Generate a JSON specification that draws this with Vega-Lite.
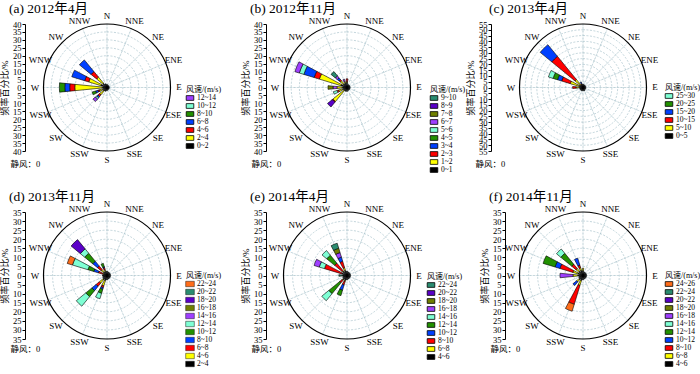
{
"$schema": "https://vega.github.io/schema/vega-lite/v6.json",
"padding": {"left": 0, "top": 2, "right": 0, "bottom": 0},
"background": "white",
"datasets": {
"dirs": [{"dir":"N","deg":0},{"dir":"NNE","deg":22.5},{"dir":"NE","deg":45},{"dir":"ENE","deg":67.5},{"dir":"E","deg":90},{"dir":"ESE","deg":112.5},{"dir":"SE","deg":135},{"dir":"SSE","deg":157.5},{"dir":"S","deg":180},{"dir":"SSW","deg":202.5},{"dir":"SW","deg":225},{"dir":"WSW","deg":247.5},{"dir":"W","deg":270},{"dir":"WNW","deg":292.5},{"dir":"NW","deg":315},{"dir":"NNW","deg":337.5}],
"rings": [{"r":5},{"r":10},{"r":15},{"r":20},{"r":25},{"r":30},{"r":35},{"r":40},{"r":45},{"r":50}],
"pa": [
{"dir":"W","bin":"0~2","k":0,"v":3},{"dir":"W","bin":"2~4","k":1,"v":17.3},{"dir":"W","bin":"4~6","k":2,"v":3.2},{"dir":"W","bin":"6~8","k":3,"v":3.1},{"dir":"W","bin":"8~10","k":4,"v":3.4},
{"dir":"WNW","bin":"0~2","k":0,"v":4},{"dir":"WNW","bin":"2~4","k":1,"v":8},{"dir":"WNW","bin":"4~6","k":2,"v":2.7},{"dir":"WNW","bin":"6~8","k":3,"v":8.5},
{"dir":"NW","bin":"0~2","k":0,"v":3.5},{"dir":"NW","bin":"2~4","k":1,"v":5},{"dir":"NW","bin":"4~6","k":2,"v":4.5},{"dir":"NW","bin":"6~8","k":3,"v":9.5},
{"dir":"WSW","bin":"0~2","k":0,"v":3},{"dir":"WSW","bin":"2~4","k":1,"v":2},{"dir":"WSW","bin":"4~6","k":2,"v":1},{"dir":"WSW","bin":"6~8","k":3,"v":1.5},{"dir":"WSW","bin":"8~10","k":4,"v":2.3},
{"dir":"SW","bin":"0~2","k":0,"v":3},{"dir":"SW","bin":"2~4","k":1,"v":3},{"dir":"SW","bin":"4~6","k":2,"v":1.5},{"dir":"SW","bin":"6~8","k":3,"v":1},{"dir":"SW","bin":"10~12","k":5,"v":1},{"dir":"SW","bin":"12~14","k":6,"v":2},
{"dir":"N","bin":"0~2","k":0,"v":2},{"dir":"NNE","bin":"0~2","k":0,"v":1.5},{"dir":"NE","bin":"0~2","k":0,"v":1.5},{"dir":"ENE","bin":"0~2","k":0,"v":1.5},{"dir":"E","bin":"0~2","k":0,"v":1.5},{"dir":"ESE","bin":"0~2","k":0,"v":1.5},{"dir":"SE","bin":"0~2","k":0,"v":1.5},{"dir":"SSE","bin":"0~2","k":0,"v":1.5},{"dir":"S","bin":"0~2","k":0,"v":2},{"dir":"SSW","bin":"0~2","k":0,"v":2.5},{"dir":"NNW","bin":"0~2","k":0,"v":2.5}
],
"pb": [
{"dir":"WNW","bin":"0~1","k":0,"v":4},{"dir":"WNW","bin":"1~2","k":1,"v":14.2},{"dir":"WNW","bin":"2~3","k":2,"v":3.4},{"dir":"WNW","bin":"3~4","k":3,"v":6.8},{"dir":"WNW","bin":"5~6","k":5,"v":3},{"dir":"WNW","bin":"6~7","k":6,"v":2.9},
{"dir":"NW","bin":"0~1","k":0,"v":3},{"dir":"NW","bin":"1~2","k":1,"v":2.5},{"dir":"NW","bin":"2~3","k":2,"v":1},{"dir":"NW","bin":"3~4","k":3,"v":1.5},{"dir":"NW","bin":"6~7","k":6,"v":1.5},{"dir":"NW","bin":"9~10","k":9,"v":3.5},
{"dir":"W","bin":"0~1","k":0,"v":3},{"dir":"W","bin":"1~2","k":1,"v":3.3},{"dir":"W","bin":"6~7","k":6,"v":2.5},{"dir":"W","bin":"7~8","k":7,"v":3.2},
{"dir":"WSW","bin":"0~1","k":0,"v":3},{"dir":"WSW","bin":"1~2","k":1,"v":2.5},{"dir":"WSW","bin":"2~3","k":2,"v":1},{"dir":"WSW","bin":"5~6","k":5,"v":2.5},
{"dir":"SW","bin":"0~1","k":0,"v":2.5},{"dir":"SW","bin":"1~2","k":1,"v":9},{"dir":"SW","bin":"2~3","k":2,"v":0.5},{"dir":"SW","bin":"8~9","k":8,"v":3.9},
{"dir":"N","bin":"0~1","k":0,"v":3},{"dir":"N","bin":"1~2","k":1,"v":0.5},{"dir":"N","bin":"2~3","k":2,"v":2},
{"dir":"NNW","bin":"0~1","k":0,"v":3},{"dir":"NNW","bin":"1~2","k":1,"v":1},{"dir":"NNW","bin":"6~7","k":6,"v":1.5},
{"dir":"NNE","bin":"0~1","k":0,"v":2},{"dir":"NE","bin":"0~1","k":0,"v":2},{"dir":"ENE","bin":"0~1","k":0,"v":2},{"dir":"E","bin":"0~1","k":0,"v":2},{"dir":"ESE","bin":"0~1","k":0,"v":2},{"dir":"SE","bin":"0~1","k":0,"v":2},{"dir":"SSE","bin":"0~1","k":0,"v":2},{"dir":"S","bin":"0~1","k":0,"v":2.5},{"dir":"SSW","bin":"0~1","k":0,"v":2.5}
],
"pc": [
{"dir":"NW","bin":"0~5","k":0,"v":3},{"dir":"NW","bin":"5~10","k":1,"v":6},{"dir":"NW","bin":"10~15","k":2,"v":26},{"dir":"NW","bin":"15~20","k":3,"v":13},
{"dir":"WNW","bin":"0~5","k":0,"v":3.5},{"dir":"WNW","bin":"5~10","k":1,"v":8},{"dir":"WNW","bin":"10~15","k":2,"v":7.8},{"dir":"WNW","bin":"15~20","k":3,"v":3.8},{"dir":"WNW","bin":"20~25","k":4,"v":4},{"dir":"WNW","bin":"25~30","k":5,"v":4.2},
{"dir":"NNW","bin":"0~5","k":0,"v":2.5},{"dir":"NNW","bin":"5~10","k":1,"v":0.5},{"dir":"NNW","bin":"10~15","k":2,"v":0.5},{"dir":"NNW","bin":"15~20","k":3,"v":1.5},
{"dir":"W","bin":"0~5","k":0,"v":3},{"dir":"W","bin":"5~10","k":1,"v":3},{"dir":"W","bin":"10~15","k":2,"v":3},
{"dir":"N","bin":"0~5","k":0,"v":3},{"dir":"NNE","bin":"0~5","k":0,"v":2.5},{"dir":"NE","bin":"0~5","k":0,"v":2.5},{"dir":"ENE","bin":"0~5","k":0,"v":2.5},{"dir":"E","bin":"0~5","k":0,"v":2.5},{"dir":"ESE","bin":"0~5","k":0,"v":2.5},{"dir":"SE","bin":"0~5","k":0,"v":2.5},{"dir":"SSE","bin":"0~5","k":0,"v":3},{"dir":"S","bin":"0~5","k":0,"v":3},{"dir":"SSW","bin":"0~5","k":0,"v":3},{"dir":"SW","bin":"0~5","k":0,"v":3},{"dir":"WSW","bin":"0~5","k":0,"v":3}
],
"pd": [
{"dir":"NW","bin":"2~4","k":0,"v":2.5},{"dir":"NW","bin":"4~6","k":1,"v":1.7},{"dir":"NW","bin":"6~8","k":2,"v":2.6},{"dir":"NW","bin":"8~10","k":3,"v":3.4},{"dir":"NW","bin":"10~12","k":4,"v":5.7},{"dir":"NW","bin":"12~14","k":5,"v":3.1},{"dir":"NW","bin":"18~20","k":8,"v":6.6},
{"dir":"WNW","bin":"2~4","k":0,"v":2},{"dir":"WNW","bin":"4~6","k":1,"v":0.4},{"dir":"WNW","bin":"6~8","k":2,"v":2.6},{"dir":"WNW","bin":"8~10","k":3,"v":2.6},{"dir":"WNW","bin":"10~12","k":4,"v":3.4},{"dir":"WNW","bin":"12~14","k":5,"v":8.9},{"dir":"WNW","bin":"22~24","k":10,"v":3},
{"dir":"SW","bin":"2~4","k":0,"v":3},{"dir":"SW","bin":"4~6","k":1,"v":2.5},{"dir":"SW","bin":"6~8","k":2,"v":2.3},{"dir":"SW","bin":"8~10","k":3,"v":3},{"dir":"SW","bin":"10~12","k":4,"v":4.3},{"dir":"SW","bin":"12~14","k":5,"v":6.8},
{"dir":"SSW","bin":"2~4","k":0,"v":3},{"dir":"SSW","bin":"4~6","k":1,"v":3},{"dir":"SSW","bin":"6~8","k":2,"v":1},{"dir":"SSW","bin":"8~10","k":3,"v":1},{"dir":"SSW","bin":"10~12","k":4,"v":2.3},{"dir":"SSW","bin":"12~14","k":5,"v":3.1},
{"dir":"NNW","bin":"2~4","k":0,"v":2.5},{"dir":"NNW","bin":"4~6","k":1,"v":1},{"dir":"NNW","bin":"6~8","k":2,"v":1},{"dir":"NNW","bin":"8~10","k":3,"v":0.5},{"dir":"NNW","bin":"10~12","k":4,"v":2},
{"dir":"N","bin":"2~4","k":0,"v":2.5},{"dir":"NNE","bin":"2~4","k":0,"v":2},{"dir":"NE","bin":"2~4","k":0,"v":2},{"dir":"ENE","bin":"2~4","k":0,"v":2},{"dir":"E","bin":"2~4","k":0,"v":2},{"dir":"ESE","bin":"2~4","k":0,"v":2},{"dir":"SE","bin":"2~4","k":0,"v":2},{"dir":"SSE","bin":"2~4","k":0,"v":2},{"dir":"S","bin":"2~4","k":0,"v":2.5},{"dir":"WSW","bin":"2~4","k":0,"v":2.5},{"dir":"W","bin":"2~4","k":0,"v":2.5}
],
"pe": [
{"dir":"NNW","bin":"4~6","k":0,"v":3},{"dir":"NNW","bin":"6~8","k":1,"v":1.5},{"dir":"NNW","bin":"8~10","k":2,"v":3.7},{"dir":"NNW","bin":"10~12","k":3,"v":2.4},{"dir":"NNW","bin":"16~18","k":6,"v":2.6},{"dir":"NNW","bin":"18~20","k":7,"v":2.5},{"dir":"NNW","bin":"22~24","k":9,"v":2.9},
{"dir":"NW","bin":"4~6","k":0,"v":3},{"dir":"NW","bin":"6~8","k":1,"v":0.5},{"dir":"NW","bin":"8~10","k":2,"v":5.3},{"dir":"NW","bin":"12~14","k":4,"v":5.7},{"dir":"NW","bin":"14~16","k":5,"v":3.3},
{"dir":"WNW","bin":"4~6","k":0,"v":3},{"dir":"WNW","bin":"8~10","k":2,"v":10},{"dir":"WNW","bin":"14~16","k":5,"v":3},{"dir":"WNW","bin":"16~18","k":6,"v":3},
{"dir":"W","bin":"4~6","k":0,"v":2.5},{"dir":"W","bin":"22~24","k":9,"v":2},
{"dir":"SW","bin":"4~6","k":0,"v":3},{"dir":"SW","bin":"6~8","k":1,"v":0.5},{"dir":"SW","bin":"8~10","k":2,"v":1.7},{"dir":"SW","bin":"12~14","k":4,"v":7.8},{"dir":"SW","bin":"14~16","k":5,"v":5},
{"dir":"SSW","bin":"4~6","k":0,"v":3},{"dir":"SSW","bin":"6~8","k":1,"v":0.5},{"dir":"SSW","bin":"8~10","k":2,"v":2},{"dir":"SSW","bin":"10~12","k":3,"v":3},{"dir":"SSW","bin":"12~14","k":4,"v":3.1},
{"dir":"N","bin":"4~6","k":0,"v":2.5},{"dir":"NNE","bin":"4~6","k":0,"v":2},{"dir":"NE","bin":"4~6","k":0,"v":2},{"dir":"ENE","bin":"4~6","k":0,"v":2},{"dir":"E","bin":"4~6","k":0,"v":2},{"dir":"ESE","bin":"4~6","k":0,"v":2},{"dir":"SE","bin":"4~6","k":0,"v":2},{"dir":"SSE","bin":"4~6","k":0,"v":2},{"dir":"S","bin":"4~6","k":0,"v":2.5},{"dir":"WSW","bin":"4~6","k":0,"v":2.5}
],
"pf": [
{"dir":"NW","bin":"4~6","k":0,"v":3},{"dir":"NW","bin":"6~8","k":1,"v":2},{"dir":"NW","bin":"8~10","k":2,"v":3},{"dir":"NW","bin":"12~14","k":4,"v":7.8},{"dir":"NW","bin":"14~16","k":5,"v":3.1},
{"dir":"WNW","bin":"4~6","k":0,"v":3},{"dir":"WNW","bin":"6~8","k":1,"v":2.8},{"dir":"WNW","bin":"8~10","k":2,"v":7.5},{"dir":"WNW","bin":"10~12","k":3,"v":2.8},{"dir":"WNW","bin":"12~14","k":4,"v":6.9},
{"dir":"NNW","bin":"4~6","k":0,"v":3},{"dir":"NNW","bin":"6~8","k":1,"v":1.5},{"dir":"NNW","bin":"8~10","k":2,"v":1.5},{"dir":"NNW","bin":"10~12","k":3,"v":4},
{"dir":"W","bin":"4~6","k":0,"v":3},{"dir":"W","bin":"6~8","k":1,"v":2.5},{"dir":"W","bin":"16~18","k":6,"v":7.2},
{"dir":"SW","bin":"4~6","k":0,"v":3},{"dir":"SW","bin":"6~8","k":1,"v":1.5},{"dir":"SW","bin":"10~12","k":3,"v":2.7},
{"dir":"SSW","bin":"4~6","k":0,"v":3},{"dir":"SSW","bin":"6~8","k":1,"v":2.7},{"dir":"SSW","bin":"8~10","k":2,"v":10.9},{"dir":"SSW","bin":"24~26","k":10,"v":4},
{"dir":"N","bin":"4~6","k":0,"v":2.5},{"dir":"N","bin":"6~8","k":1,"v":1.5},{"dir":"NNE","bin":"4~6","k":0,"v":2},{"dir":"NE","bin":"4~6","k":0,"v":2},{"dir":"ENE","bin":"4~6","k":0,"v":2},{"dir":"E","bin":"4~6","k":0,"v":2},{"dir":"ESE","bin":"4~6","k":0,"v":2},{"dir":"SE","bin":"4~6","k":0,"v":2},{"dir":"SSE","bin":"4~6","k":0,"v":2},{"dir":"S","bin":"4~6","k":0,"v":2.5},{"dir":"WSW","bin":"4~6","k":0,"v":2.5}
]
},
"columns": 3,
"spacing": {"row": 61, "column": 77},
"bounds": "flush",
"concat": [
{
"width": 164, "height": 127, "title": "(a) 2012年4月",
"layer": [
{"data": {"values": [{}]}, "mark": {"type": "point", "opacity": 0}, "encoding": {
 "y": {"datum": 0, "type": "quantitative", "scale": {"domain": [-40, 40], "nice": false, "zero": false}, "axis": {"values": [-40,-35,-30,-25,-20,-15,-10,-5,0,5,10,15,20,25,30,35,40], "labelExpr": "abs(datum.value)", "title": "频率百分比/%"}},
 "x": {"datum": 0, "type": "quantitative", "scale": {"domain": [-1, 1]}, "axis": {"title": "静风：0", "labels": false, "ticks": false, "domain": false, "grid": false, "titleAnchor": "start", "titleAlign": "left", "titleX": -15, "titleY": 12, "titleBaseline": "middle", "titleFontSize": 8.5}}}},
{"data": {"name": "rings"}, "transform": [{"filter": "datum.r < 40"}], "mark": {"type": "arc", "theta": 0, "theta2": 6.2832, "filled": false, "stroke": "#a9c3cb", "strokeWidth": 0.7, "strokeDash": [2, 1.5]}, "encoding": {"radius": {"field": "r", "type": "quantitative", "stack": null, "scale": {"type": "linear", "domain": [0, 40], "range": [0, 63.5], "zero": true, "nice": false}}}},
{"data": {"name": "dirs"}, "mark": {"type": "arc", "radius": 63.5, "filled": false, "stroke": "#a9c3cb", "strokeWidth": 0.5, "strokeDash": [2, 1.5]}, "encoding": {"theta": {"field": "deg", "type": "quantitative", "stack": null, "scale": {"domain": [0, 360], "range": [0, 6.283185]}}, "theta2": {"field": "deg"}}},
{"data": {"name": "pa"}, "mark": {"type": "arc", "stroke": "black", "strokeWidth": 0.6}, "encoding": {
 "theta": {"field": "dir", "type": "nominal", "scale": {"type": "band", "domain": ["N","NNE","NE","ENE","E","ESE","SE","SSE","S","SSW","SW","WSW","W","WNW","NW","NNW"], "range": [-0.19635, 6.08684], "paddingInner": 0.5, "paddingOuter": 0.25}},
 "radius": {"field": "v", "type": "quantitative", "stack": "zero", "scale": {"type": "linear", "domain": [0, 40], "range": [0, 63.5], "zero": true, "nice": false}},
 "color": {"field": "bin", "type": "nominal", "title": "风速/(m/s)", "scale": {"domain": ["12~14","10~12","8~10","6~8","4~6","2~4","0~2"], "range": ["#9f3fff","#7fffd4","#229100","#0040ff","#ff0000","#ffff00","#000000"]}, "legend": {"legendX": 161, "legendY": 62, "symbolSize": 40, "symbolStrokeWidth": 0.8}},
 "order": {"field": "k", "type": "quantitative"}}},
{"data": {"values": [{}]}, "mark": {"type": "arc", "radius": 63.5, "theta": 0, "theta2": 6.2832, "filled": false, "stroke": "black", "strokeWidth": 1.2}, "encoding": {}},
{"data": {"name": "dirs"}, "mark": {"type": "text", "radius": 72, "fontSize": 9, "color": "black"}, "encoding": {"theta": {"field": "deg", "type": "quantitative", "stack": null, "scale": {"domain": [0, 360], "range": [0, 6.283185]}}, "text": {"field": "dir"}}}
],
"resolve": {"scale": {"theta": "independent"}}
},
{
"width": 162, "height": 127, "title": "(b) 2012年11月",
"layer": [
{"data": {"values": [{}]}, "mark": {"type": "point", "opacity": 0}, "encoding": {
 "y": {"datum": 0, "type": "quantitative", "scale": {"domain": [-40, 40], "nice": false, "zero": false}, "axis": {"values": [-40,-35,-30,-25,-20,-15,-10,-5,0,5,10,15,20,25,30,35,40], "labelExpr": "abs(datum.value)", "title": "频率百分比/%"}},
 "x": {"datum": 0, "type": "quantitative", "scale": {"domain": [-1, 1]}, "axis": {"title": "静风：0", "labels": false, "ticks": false, "domain": false, "grid": false, "titleAnchor": "start", "titleAlign": "left", "titleX": -15, "titleY": 12, "titleBaseline": "middle", "titleFontSize": 8.5}}}},
{"data": {"name": "rings"}, "transform": [{"filter": "datum.r < 40"}], "mark": {"type": "arc", "theta": 0, "theta2": 6.2832, "filled": false, "stroke": "#a9c3cb", "strokeWidth": 0.7, "strokeDash": [2, 1.5]}, "encoding": {"radius": {"field": "r", "type": "quantitative", "stack": null, "scale": {"type": "linear", "domain": [0, 40], "range": [0, 63.5], "zero": true, "nice": false}}}},
{"data": {"name": "dirs"}, "mark": {"type": "arc", "radius": 63.5, "filled": false, "stroke": "#a9c3cb", "strokeWidth": 0.5, "strokeDash": [2, 1.5]}, "encoding": {"theta": {"field": "deg", "type": "quantitative", "stack": null, "scale": {"domain": [0, 360], "range": [0, 6.283185]}}, "theta2": {"field": "deg"}}},
{"data": {"name": "pb"}, "mark": {"type": "arc", "stroke": "black", "strokeWidth": 0.6}, "encoding": {
 "theta": {"field": "dir", "type": "nominal", "scale": {"type": "band", "domain": ["N","NNE","NE","ENE","E","ESE","SE","SSE","S","SSW","SW","WSW","W","WNW","NW","NNW"], "range": [-0.19635, 6.08684], "paddingInner": 0.5, "paddingOuter": 0.25}},
 "radius": {"field": "v", "type": "quantitative", "stack": "zero", "scale": {"type": "linear", "domain": [0, 40], "range": [0, 63.5], "zero": true, "nice": false}},
 "color": {"field": "bin", "type": "nominal", "title": "风速/(m/s)", "scale": {"domain": ["9~10","8~9","7~8","6~7","5~6","4~5","3~4","2~3","1~2","0~1"], "range": ["#2a8c70","#5a00c8","#6f7f00","#9f3fff","#7fffd4","#229100","#0040ff","#ff0000","#ffff00","#000000"]}, "legend": {"legendX": 164, "legendY": 62, "symbolSize": 40, "symbolStrokeWidth": 0.8}},
 "order": {"field": "k", "type": "quantitative"}}},
{"data": {"values": [{}]}, "mark": {"type": "arc", "radius": 63.5, "theta": 0, "theta2": 6.2832, "filled": false, "stroke": "black", "strokeWidth": 1.2}, "encoding": {}},
{"data": {"name": "dirs"}, "mark": {"type": "text", "radius": 72, "fontSize": 9, "color": "black"}, "encoding": {"theta": {"field": "deg", "type": "quantitative", "stack": null, "scale": {"domain": [0, 360], "range": [0, 6.283185]}}, "text": {"field": "dir"}}}
],
"resolve": {"scale": {"theta": "independent"}}
},
{
"width": 156, "height": 127, "title": "(c) 2013年4月",
"layer": [
{"data": {"values": [{}]}, "mark": {"type": "point", "opacity": 0}, "encoding": {
 "y": {"datum": 0, "type": "quantitative", "scale": {"domain": [-55, 55], "nice": false, "zero": false}, "axis": {"values": [-55,-50,-45,-40,-35,-30,-25,-20,-15,-10,-5,0,5,10,15,20,25,30,35,40,45,50,55], "labelExpr": "abs(datum.value)", "title": "频率百分比/%", "offset": 14}},
 "x": {"datum": 0, "type": "quantitative", "scale": {"domain": [-1, 1]}, "axis": {"title": "静风：0", "labels": false, "ticks": false, "domain": false, "grid": false, "titleAnchor": "start", "titleAlign": "left", "titleX": -30, "titleY": 12, "titleBaseline": "middle", "titleFontSize": 8.5}}}},
{"data": {"name": "rings"}, "transform": [{"filter": "datum.r < 55"}], "mark": {"type": "arc", "theta": 0, "theta2": 6.2832, "filled": false, "stroke": "#a9c3cb", "strokeWidth": 0.7, "strokeDash": [2, 1.5]}, "encoding": {"radius": {"field": "r", "type": "quantitative", "stack": null, "scale": {"type": "linear", "domain": [0, 55], "range": [0, 63.5], "zero": true, "nice": false}}}},
{"data": {"name": "dirs"}, "mark": {"type": "arc", "radius": 63.5, "filled": false, "stroke": "#a9c3cb", "strokeWidth": 0.5, "strokeDash": [2, 1.5]}, "encoding": {"theta": {"field": "deg", "type": "quantitative", "stack": null, "scale": {"domain": [0, 360], "range": [0, 6.283185]}}, "theta2": {"field": "deg"}}},
{"data": {"name": "pc"}, "mark": {"type": "arc", "stroke": "black", "strokeWidth": 0.6}, "encoding": {
 "theta": {"field": "dir", "type": "nominal", "scale": {"type": "band", "domain": ["N","NNE","NE","ENE","E","ESE","SE","SSE","S","SSW","SW","WSW","W","WNW","NW","NNW"], "range": [-0.19635, 6.08684], "paddingInner": 0.5, "paddingOuter": 0.25}},
 "radius": {"field": "v", "type": "quantitative", "stack": "zero", "scale": {"type": "linear", "domain": [0, 55], "range": [0, 63.5], "zero": true, "nice": false}},
 "color": {"field": "bin", "type": "nominal", "title": "风速/(m/s)", "scale": {"domain": ["25~30","20~25","15~20","10~15","5~10","0~5"], "range": ["#7fffd4","#229100","#0040ff","#ff0000","#ffff00","#000000"]}, "legend": {"legendX": 160, "legendY": 60, "symbolSize": 40, "symbolStrokeWidth": 0.8}},
 "order": {"field": "k", "type": "quantitative"}}},
{"data": {"values": [{}]}, "mark": {"type": "arc", "radius": 63.5, "theta": 0, "theta2": 6.2832, "filled": false, "stroke": "black", "strokeWidth": 1.2}, "encoding": {}},
{"data": {"name": "dirs"}, "mark": {"type": "text", "radius": 72, "fontSize": 9, "color": "black"}, "encoding": {"theta": {"field": "deg", "type": "quantitative", "stack": null, "scale": {"domain": [0, 360], "range": [0, 6.283185]}}, "text": {"field": "dir"}}}
],
"resolve": {"scale": {"theta": "independent"}}
},
{
"width": 164, "height": 127, "title": "(d) 2013年11月",
"layer": [
{"data": {"values": [{}]}, "mark": {"type": "point", "opacity": 0}, "encoding": {
 "y": {"datum": 0, "type": "quantitative", "scale": {"domain": [-35, 35], "nice": false, "zero": false}, "axis": {"values": [-35,-30,-25,-20,-15,-10,-5,0,5,10,15,20,25,30,35], "labelExpr": "abs(datum.value)", "title": "频率百分比/%"}},
 "x": {"datum": 0, "type": "quantitative", "scale": {"domain": [-1, 1]}, "axis": {"title": "静风：0", "labels": false, "ticks": false, "domain": false, "grid": false, "titleAnchor": "start", "titleAlign": "left", "titleX": -15, "titleY": 9, "titleBaseline": "middle", "titleFontSize": 8.5}}}},
{"data": {"name": "rings"}, "transform": [{"filter": "datum.r < 35"}], "mark": {"type": "arc", "theta": 0, "theta2": 6.2832, "filled": false, "stroke": "#a9c3cb", "strokeWidth": 0.7, "strokeDash": [2, 1.5]}, "encoding": {"radius": {"field": "r", "type": "quantitative", "stack": null, "scale": {"type": "linear", "domain": [0, 35], "range": [0, 63.5], "zero": true, "nice": false}}}},
{"data": {"name": "dirs"}, "mark": {"type": "arc", "radius": 63.5, "filled": false, "stroke": "#a9c3cb", "strokeWidth": 0.5, "strokeDash": [2, 1.5]}, "encoding": {"theta": {"field": "deg", "type": "quantitative", "stack": null, "scale": {"domain": [0, 360], "range": [0, 6.283185]}}, "theta2": {"field": "deg"}}},
{"data": {"name": "pd"}, "mark": {"type": "arc", "stroke": "black", "strokeWidth": 0.6}, "encoding": {
 "theta": {"field": "dir", "type": "nominal", "scale": {"type": "band", "domain": ["N","NNE","NE","ENE","E","ESE","SE","SSE","S","SSW","SW","WSW","W","WNW","NW","NNW"], "range": [-0.19635, 6.08684], "paddingInner": 0.5, "paddingOuter": 0.25}},
 "radius": {"field": "v", "type": "quantitative", "stack": "zero", "scale": {"type": "linear", "domain": [0, 35], "range": [0, 63.5], "zero": true, "nice": false}},
 "color": {"field": "bin", "type": "nominal", "title": "风速/(m/s)", "scale": {"domain": ["22~24","20~22","18~20","16~18","14~16","12~14","10~12","8~10","6~8","4~6","2~4"], "range": ["#ff6d1a","#2a8c70","#5a00c8","#6f7f00","#9f3fff","#7fffd4","#229100","#0040ff","#ff0000","#ffff00","#000000"]}, "legend": {"legendX": 161, "legendY": 60, "symbolSize": 52, "symbolStrokeWidth": 0.45}},
 "order": {"field": "k", "type": "quantitative"}}},
{"data": {"values": [{}]}, "mark": {"type": "arc", "radius": 63.5, "theta": 0, "theta2": 6.2832, "filled": false, "stroke": "black", "strokeWidth": 1.2}, "encoding": {}},
{"data": {"name": "dirs"}, "mark": {"type": "text", "radius": 72, "fontSize": 9, "color": "black"}, "encoding": {"theta": {"field": "deg", "type": "quantitative", "stack": null, "scale": {"domain": [0, 360], "range": [0, 6.283185]}}, "text": {"field": "dir"}}}
],
"resolve": {"scale": {"theta": "independent"}}
},
{
"width": 162, "height": 127, "title": "(e) 2014年4月",
"layer": [
{"data": {"values": [{}]}, "mark": {"type": "point", "opacity": 0}, "encoding": {
 "y": {"datum": 0, "type": "quantitative", "scale": {"domain": [-35, 35], "nice": false, "zero": false}, "axis": {"values": [-35,-30,-25,-20,-15,-10,-5,0,5,10,15,20,25,30,35], "labelExpr": "abs(datum.value)", "title": "频率百分比/%"}},
 "x": {"datum": 0, "type": "quantitative", "scale": {"domain": [-1, 1]}, "axis": {"title": "静风：0", "labels": false, "ticks": false, "domain": false, "grid": false, "titleAnchor": "start", "titleAlign": "left", "titleX": -15, "titleY": 9, "titleBaseline": "middle", "titleFontSize": 8.5}}}},
{"data": {"name": "rings"}, "transform": [{"filter": "datum.r < 35"}], "mark": {"type": "arc", "theta": 0, "theta2": 6.2832, "filled": false, "stroke": "#a9c3cb", "strokeWidth": 0.7, "strokeDash": [2, 1.5]}, "encoding": {"radius": {"field": "r", "type": "quantitative", "stack": null, "scale": {"type": "linear", "domain": [0, 35], "range": [0, 63.5], "zero": true, "nice": false}}}},
{"data": {"name": "dirs"}, "mark": {"type": "arc", "radius": 63.5, "filled": false, "stroke": "#a9c3cb", "strokeWidth": 0.5, "strokeDash": [2, 1.5]}, "encoding": {"theta": {"field": "deg", "type": "quantitative", "stack": null, "scale": {"domain": [0, 360], "range": [0, 6.283185]}}, "theta2": {"field": "deg"}}},
{"data": {"name": "pe"}, "mark": {"type": "arc", "stroke": "black", "strokeWidth": 0.6}, "encoding": {
 "theta": {"field": "dir", "type": "nominal", "scale": {"type": "band", "domain": ["N","NNE","NE","ENE","E","ESE","SE","SSE","S","SSW","SW","WSW","W","WNW","NW","NNW"], "range": [-0.19635, 6.08684], "paddingInner": 0.5, "paddingOuter": 0.25}},
 "radius": {"field": "v", "type": "quantitative", "stack": "zero", "scale": {"type": "linear", "domain": [0, 35], "range": [0, 63.5], "zero": true, "nice": false}},
 "color": {"field": "bin", "type": "nominal", "title": "风速/(m/s)", "scale": {"domain": ["22~24","20~22","18~20","16~18","14~16","12~14","10~12","8~10","6~8","4~6"], "range": ["#2a8c70","#5a00c8","#6f7f00","#9f3fff","#7fffd4","#229100","#0040ff","#ff0000","#ffff00","#000000"]}, "legend": {"legendX": 161, "legendY": 61, "symbolSize": 40, "symbolStrokeWidth": 0.8}},
 "order": {"field": "k", "type": "quantitative"}}},
{"data": {"values": [{}]}, "mark": {"type": "arc", "radius": 63.5, "theta": 0, "theta2": 6.2832, "filled": false, "stroke": "black", "strokeWidth": 1.2}, "encoding": {}},
{"data": {"name": "dirs"}, "mark": {"type": "text", "radius": 72, "fontSize": 9, "color": "black"}, "encoding": {"theta": {"field": "deg", "type": "quantitative", "stack": null, "scale": {"domain": [0, 360], "range": [0, 6.283185]}}, "text": {"field": "dir"}}}
],
"resolve": {"scale": {"theta": "independent"}}
},
{
"width": 156, "height": 127, "title": "(f) 2014年11月",
"layer": [
{"data": {"values": [{}]}, "mark": {"type": "point", "opacity": 0}, "encoding": {
 "y": {"datum": 0, "type": "quantitative", "scale": {"domain": [-35, 35], "nice": false, "zero": false}, "axis": {"values": [-35,-30,-25,-20,-15,-10,-5,0,5,10,15,20,25,30,35], "labelExpr": "abs(datum.value)", "title": "频率百分比/%"}},
 "x": {"datum": 0, "type": "quantitative", "scale": {"domain": [-1, 1]}, "axis": {"title": "静风：0", "labels": false, "ticks": false, "domain": false, "grid": false, "titleAnchor": "start", "titleAlign": "left", "titleX": -15, "titleY": 9, "titleBaseline": "middle", "titleFontSize": 8.5}}}},
{"data": {"name": "rings"}, "transform": [{"filter": "datum.r < 35"}], "mark": {"type": "arc", "theta": 0, "theta2": 6.2832, "filled": false, "stroke": "#a9c3cb", "strokeWidth": 0.7, "strokeDash": [2, 1.5]}, "encoding": {"radius": {"field": "r", "type": "quantitative", "stack": null, "scale": {"type": "linear", "domain": [0, 35], "range": [0, 63.5], "zero": true, "nice": false}}}},
{"data": {"name": "dirs"}, "mark": {"type": "arc", "radius": 63.5, "filled": false, "stroke": "#a9c3cb", "strokeWidth": 0.5, "strokeDash": [2, 1.5]}, "encoding": {"theta": {"field": "deg", "type": "quantitative", "stack": null, "scale": {"domain": [0, 360], "range": [0, 6.283185]}}, "theta2": {"field": "deg"}}},
{"data": {"name": "pf"}, "mark": {"type": "arc", "stroke": "black", "strokeWidth": 0.6}, "encoding": {
 "theta": {"field": "dir", "type": "nominal", "scale": {"type": "band", "domain": ["N","NNE","NE","ENE","E","ESE","SE","SSE","S","SSW","SW","WSW","W","WNW","NW","NNW"], "range": [-0.19635, 6.08684], "paddingInner": 0.5, "paddingOuter": 0.25}},
 "radius": {"field": "v", "type": "quantitative", "stack": "zero", "scale": {"type": "linear", "domain": [0, 35], "range": [0, 63.5], "zero": true, "nice": false}},
 "color": {"field": "bin", "type": "nominal", "title": "风速/(m/s)", "scale": {"domain": ["24~26","22~24","20~22","18~20","16~18","14~16","12~14","10~12","8~10","6~8","4~6"], "range": ["#ff6d1a","#2a8c70","#5a00c8","#6f7f00","#9f3fff","#7fffd4","#229100","#0040ff","#ff0000","#ffff00","#000000"]}, "legend": {"legendX": 160, "legendY": 60, "symbolSize": 40, "symbolStrokeWidth": 0.8}},
 "order": {"field": "k", "type": "quantitative"}}},
{"data": {"values": [{}]}, "mark": {"type": "arc", "radius": 63.5, "theta": 0, "theta2": 6.2832, "filled": false, "stroke": "black", "strokeWidth": 1.2}, "encoding": {}},
{"data": {"name": "dirs"}, "mark": {"type": "text", "radius": 72, "fontSize": 9, "color": "black"}, "encoding": {"theta": {"field": "deg", "type": "quantitative", "stack": null, "scale": {"domain": [0, 360], "range": [0, 6.283185]}}, "text": {"field": "dir"}}}
],
"resolve": {"scale": {"theta": "independent"}}
}
],
"resolve": {"scale": {"color": "independent", "theta": "independent", "radius": "independent", "x": "independent", "y": "independent"}, "legend": {"color": "independent"}},
"config": {
 "view": {"stroke": null},
 "font": "Liberation Serif, Noto Sans CJK SC",
 "text": {"font": "Liberation Serif, Noto Sans CJK SC"},
 "title": {"anchor": "start", "frame": "group", "font": "Liberation Serif, Noto Sans CJK SC", "fontSize": 13.5, "fontWeight": "normal", "color": "black", "dx": -16, "offset": -4},
 "axis": {"grid": false, "domainColor": "black", "tickColor": "black", "labelColor": "black", "titleColor": "black", "labelFont": "Liberation Serif, Noto Sans CJK SC", "titleFont": "Liberation Serif, Noto Sans CJK SC", "titleFontWeight": "normal", "labelFontSize": 8.5, "titleFontSize": 9, "tickSize": 3, "labelPadding": 1, "titlePadding": 3, "labelOverlap": false, "labelFlush": false, "labelBound": false, "domainWidth": 1},
 "legend": {"orient": "none", "titleFont": "Liberation Serif, Noto Sans CJK SC", "titleFontSize": 8, "titleFontWeight": "normal", "titleColor": "black", "labelFont": "Liberation Serif, Noto Sans CJK SC", "labelFontSize": 7.5, "labelColor": "black", "symbolType": "M-1.2,-0.75H1.2V0.75H-1.2Z", "symbolSize": 40, "symbolStrokeColor": "black", "symbolStrokeWidth": 0.8, "symbolOpacity": 1, "rowPadding": 0, "labelOffset": 3, "titlePadding": 0, "padding": 0}
}
}
